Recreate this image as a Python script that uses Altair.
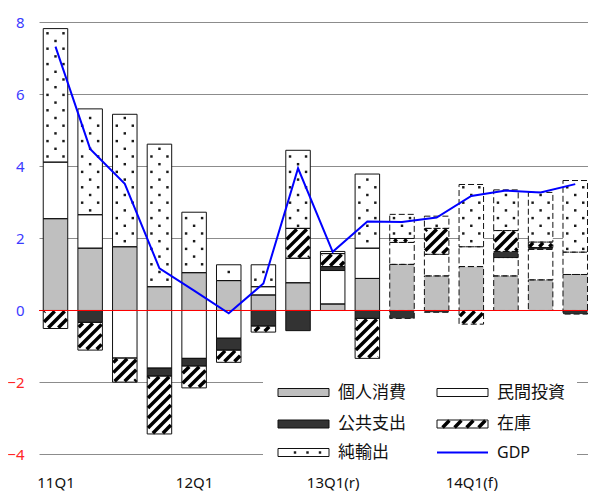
import math
import altair as alt
import pandas as pd

# ---------------- data ----------------
quarters = ["11Q1", "11Q2", "11Q3", "11Q4", "12Q1", "12Q2", "12Q3", "12Q4",
            "13Q1", "13Q2", "13Q3", "13Q4", "14Q1", "14Q2", "14Q3", "14Q4"]
tick_text = {"11Q1": "11Q1", "12Q1": "12Q1", "13Q1": "13Q1(r)", "14Q1": "14Q1(f)"}
forecast_from = "13Q3"

series_names = ["個人消費", "民間投資", "公共支出", "在庫", "純輸出"]
consumption = [2.55, 1.73, 1.77, 0.66, 1.05, 0.83, 0.43, 0.77,
               0.18, 0.89, 1.28, 0.96, 1.22, 0.96, 0.85, 1.00]
investment = [1.57, 0.93, -1.32, -1.60, -1.33, -0.77, 0.23, 0.68,
              0.93, 0.84, 0.61, 0.60, 0.55, 0.51, 0.85, 0.62]
public = [0.00, -0.33, 0.00, -0.22, -0.21, -0.33, -0.43, -0.56,
          0.11, -0.22, -0.22, -0.05, 0.00, 0.17, 0.05, -0.10]
inventory = [-0.50, -0.77, -0.67, -1.61, -0.61, -0.34, -0.17, 0.83,
             0.36, -1.11, 0.11, 0.72, -0.38, 0.58, 0.15, 0.00]
net_exports = [3.71, 2.94, 3.68, 3.96, 1.68, 0.44, 0.61, 2.17,
               0.06, 2.06, 0.67, 0.34, 1.73, 1.13, 1.38, 1.99]
gdp = [7.33, 4.49, 3.52, 1.17, 0.55, -0.08, 0.75, 3.95,
       1.63, 2.47, 2.46, 2.58, 3.18, 3.33, 3.28, 3.51]
gdp_name = "GDP"

# ---------------- layout / style ----------------
VIEW_W, VIEW_H = 549, 455
PAD = {"left": 31, "top": 7, "right": 0, "bottom": 22}
X_DOMAIN = [-0.476, 15.368]
Y_DOMAIN = [-4.431, 8.208]
SX = VIEW_W / (X_DOMAIN[1] - X_DOMAIN[0])
SY = VIEW_H / (Y_DOMAIN[1] - Y_DOMAIN[0])
BAR_HALF = 12.25 / SX
FILLS = ["#bfbfbf", "#ffffff", "#333333", "#ffffff", "#ffffff"]
HATCH_SERIES = "在庫"
DOT_SERIES = "純輸出"
FONT = "Noto Sans"
CJK = "Noto Sans CJK JP"

def dx(px):  # page pixel -> data x (layout helper for the legend)
    return X_DOMAIN[0] + (px - 8 - PAD["left"]) / SX

def dy(py):
    return Y_DOMAIN[1] - (py - 8 - PAD["top"]) / SY

def hatch(x0, x1, y0, y1, period=10.0, inset=0.8):
    u0, u1 = min(x0, x1) * SX + inset, max(x0, x1) * SX - inset
    v0, v1 = min(y0, y1) * SY + inset, max(y0, y1) * SY - inset
    out = []
    if u1 <= u0 or v1 <= v0:
        return out
    k0 = math.ceil((v0 - u1) / period)
    k1 = math.floor((v1 - u0) / period)
    for k in range(k0, k1 + 1):
        c = k * period
        a = max(u0, v0 - c)
        b = min(u1, v1 - c)
        if b - a > 0.3:
            out.append({"hx": a / SX, "hy": (a + c) / SY,
                        "hx2": b / SX, "hy2": (b + c) / SY})
    return out

def dots(xc, y0, y1, row=7.7, offs=8.0):
    v0, v1 = min(y0, y1) * SY + 2, max(y0, y1) * SY - 2
    out = []
    for m in range(math.ceil(v0 / row), math.floor(v1 / row) + 1):
        cols = (-offs, offs) if m % 2 == 0 else (0.0,)
        for o in cols:
            out.append({"px": xc + o / SX, "py": m * row / SY})
    return out

# ---------------- derived tables ----------------
series_vals = [consumption, investment, public, inventory, net_exports]
fc_idx = quarters.index(forecast_from)
seg_rows, hatch_rows, dot_rows = [], [], []
for i, q in enumerate(quarters):
    pos, neg = 0.0, 0.0
    for name, arr in zip(series_names, series_vals):
        v = arr[i]
        if v == 0:
            continue
        if v > 0:
            y0, y1 = pos, pos + v
            pos = y1
        else:
            y0, y1 = neg, neg + v
            neg = y1
        x0, x1 = i - BAR_HALF, i + BAR_HALF
        seg_rows.append({"q": q, "series": name, "x0": x0, "x1": x1,
                         "y0": y0, "y1": y1, "fc": i >= fc_idx})
        if name == HATCH_SERIES:
            hatch_rows += hatch(x0, x1, y0, y1)
        if name == DOT_SERIES:
            dot_rows += dots(i, y0, y1)

segs = pd.DataFrame(seg_rows)
gdp_df = pd.DataFrame({"i": list(range(len(quarters))), "gdp": gdp, "q": quarters})

# legend layout
leg_cols_px = [278, 437]
leg_rows_px = [392.5, 424, 452.5]
SW_W, SW_H = 51, 8
legend_items = series_names + [gdp_name]
slots = [(0, 0), (1, 0), (0, 1), (1, 1), (0, 2), (1, 2)]
leg_sw, leg_txt, leg_line = [], [], []
for name, (c, r) in zip(legend_items, slots):
    left, cy = leg_cols_px[c], leg_rows_px[r]
    leg_txt.append({"t": name, "x": dx(left + 60), "y": dy(cy),
                    "latin": name == gdp_name})
    if name == gdp_name:
        leg_line.append({"x": dx(left), "x2": dx(left + SW_W), "y": dy(cy)})
        continue
    sw = {"series": name, "x0": dx(left), "x1": dx(left + SW_W),
          "y0": dy(cy + SW_H / 2), "y1": dy(cy - SW_H / 2)}
    leg_sw.append(sw)
    if name == HATCH_SERIES:
        hatch_rows += hatch(sw["x0"], sw["x1"], sw["y0"], sw["y1"], period=12, inset=0.6)
    if name == DOT_SERIES:
        for off in (17, 29.5, 42):
            dot_rows.append({"px": dx(left + off), "py": dy(cy)})

hatch_df = pd.DataFrame(hatch_rows)
dots_df = pd.DataFrame(dot_rows)
leg_sw_df = pd.DataFrame(leg_sw)
leg_txt_df = pd.DataFrame(leg_txt)
leg_line_df = pd.DataFrame(leg_line)
leg_bg = pd.DataFrame([{"x0": dx(263), "x1": dx(577), "y0": dy(368), "y1": Y_DOMAIN[0]}])

# ---------------- scales / axes ----------------
tick_vals = [i for i, q in enumerate(quarters) if q in tick_text]
label_expr = "''"
for i in reversed(tick_vals):
    label_expr = f"datum.value == {i} ? '{tick_text[quarters[i]]}' : " + label_expr

xscale = alt.Scale(domain=X_DOMAIN, nice=False, zero=False)
yscale = alt.Scale(domain=Y_DOMAIN, nice=False, zero=False)
fill_scale = alt.Scale(domain=series_names, range=FILLS)

x_axis = alt.Axis(values=tick_vals, labelExpr=label_expr, grid=False, domain=False,
                  ticks=False, labelPadding=5, labelFontSize=15, labelFont=FONT,
                  labelColor="#111111", labelFlush=False, labelOverlap=False, title=None)
y_axis = alt.Axis(values=[-4, -2, 0, 2, 4, 6, 8], grid=True, gridColor="#8c8c8c",
                  gridWidth=1, domain=False, ticks=False, labelPadding=15,
                  labelFontSize=15, labelFont=FONT, title=None,
                  labelColor={"condition": {"test": "datum.value < 0", "value": "#ff2626"},
                              "value": "#3b3bff"})

base_x = alt.X("x0:Q", scale=xscale, axis=x_axis)
base_y = alt.Y("y0:Q", scale=yscale, axis=y_axis)

bg = alt.Chart(leg_bg).mark_rect(color="white").encode(
    x=base_x, x2="x1:Q", y=base_y, y2="y1:Q")

fills = alt.Chart(segs).mark_rect(strokeWidth=0).encode(
    x=alt.X("x0:Q", scale=xscale), x2="x1:Q",
    y=alt.Y("y0:Q", scale=yscale), y2="y1:Q",
    fill=alt.Fill("series:N", scale=fill_scale, legend=None))

leg_fill = alt.Chart(leg_sw_df).mark_rect(strokeWidth=0).encode(
    x=alt.X("x0:Q", scale=xscale), x2="x1:Q",
    y=alt.Y("y0:Q", scale=yscale), y2="y1:Q",
    fill=alt.Fill("series:N", scale=fill_scale, legend=None))

hatch_layer = alt.Chart(hatch_df).mark_rule(color="black", strokeWidth=3.5, strokeCap="butt").encode(
    x=alt.X("hx:Q", scale=xscale), x2="hx2:Q",
    y=alt.Y("hy:Q", scale=yscale), y2="hy2:Q")

dot_layer = alt.Chart(dots_df).mark_square(size=6, color="#1a1a1a", opacity=1).encode(
    x=alt.X("px:Q", scale=xscale), y=alt.Y("py:Q", scale=yscale))

outline_solid = alt.Chart(segs).transform_filter("!datum.fc").mark_rect(
    fillOpacity=0, stroke="#111111", strokeWidth=1).encode(
    x=alt.X("x0:Q", scale=xscale), x2="x1:Q",
    y=alt.Y("y0:Q", scale=yscale), y2="y1:Q")

outline_dash = alt.Chart(segs).transform_filter("datum.fc").mark_rect(
    fillOpacity=0, stroke="#111111", strokeWidth=1, strokeDash=[6, 3]).encode(
    x=alt.X("x0:Q", scale=xscale), x2="x1:Q",
    y=alt.Y("y0:Q", scale=yscale), y2="y1:Q")

zero = alt.Chart(pd.DataFrame({"z": [0]})).mark_rule(color="#ff0000", strokeWidth=1).encode(
    y=alt.Y("z:Q", scale=yscale))

gdp_line = alt.Chart(gdp_df).mark_line(color="#0000ff", strokeWidth=2).encode(
    x=alt.X("i:Q", scale=xscale), y=alt.Y("gdp:Q", scale=yscale))

leg_fill_outline = alt.Chart(leg_sw_df).mark_rect(fillOpacity=0, stroke="#111111", strokeWidth=1).encode(
    x=alt.X("x0:Q", scale=xscale), x2="x1:Q",
    y=alt.Y("y0:Q", scale=yscale), y2="y1:Q")

leg_gdp = alt.Chart(leg_line_df).mark_rule(color="#0000ff", strokeWidth=2).encode(
    x=alt.X("x:Q", scale=xscale), x2="x2:Q", y=alt.Y("y:Q", scale=yscale))

leg_text_cjk = alt.Chart(leg_txt_df).transform_filter("!datum.latin").mark_text(
    align="left", baseline="middle", fontSize=17, font=CJK, color="#111111").encode(
    x=alt.X("x:Q", scale=xscale), y=alt.Y("y:Q", scale=yscale), text="t:N")

leg_text_latin = alt.Chart(leg_txt_df).transform_filter("datum.latin").mark_text(
    align="left", baseline="middle", fontSize=16, font=FONT, color="#111111").encode(
    x=alt.X("x:Q", scale=xscale), y=alt.Y("y:Q", scale=yscale), text="t:N")

chart = alt.layer(
    bg, fills, leg_fill, hatch_layer, dot_layer, outline_solid, outline_dash, zero,
    gdp_line, leg_fill_outline, leg_gdp, leg_text_cjk, leg_text_latin
).properties(
    width=VIEW_W, height=VIEW_H, padding=PAD,
    autosize=alt.AutoSizeParams(type="none"),
    background="white"
).configure_view(strokeWidth=0)

chart.save("out.html", embed_options={"renderer": "svg", "actions": False})
